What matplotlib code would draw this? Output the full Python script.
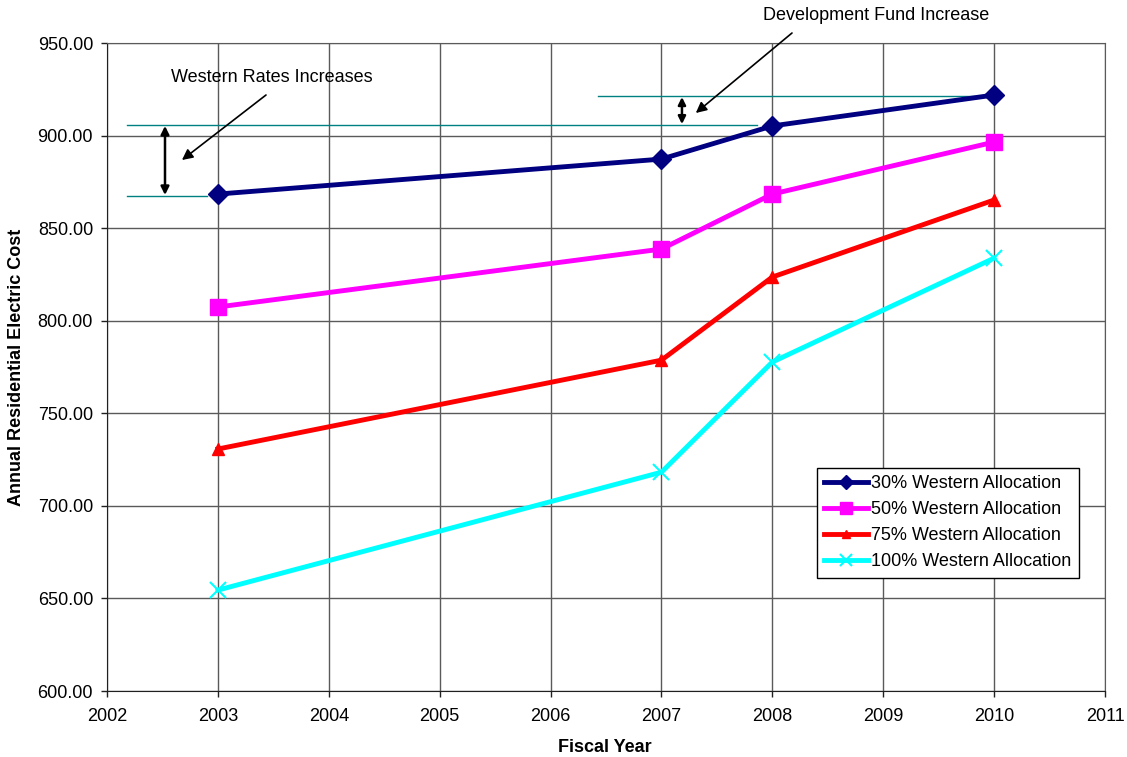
import matplotlib
matplotlib.use("Agg")
import matplotlib.pyplot as plt

plt.rcParams['font.family'] = ['Liberation Sans', 'DejaVu Sans']

years = [2003, 2007, 2008, 2010]
s30 = [868.4, 887.3, 905.2, 921.9]
s50 = [807.4, 838.7, 868.4, 896.5]
s75 = [730.7, 778.7, 823.6, 865.2]
s100 = [654.5, 718.2, 777.7, 833.8]
labels = ["30% Western Allocation", "50% Western Allocation",
          "75% Western Allocation", "100% Western Allocation"]
xticks = list(range(2002, 2012))
yticks = [600, 650, 700, 750, 800, 850, 900, 950]

W, H = 1127, 757
fig = plt.figure(figsize=(W / 100, H / 100), dpi=100)
ax = fig.add_axes([107 / W, 1 - 691 / H, 998 / W, 648 / H])
ax.set_xlim(2002, 2011)
ax.set_ylim(600, 950)
ax.set_xticks(xticks)
ax.set_yticks(yticks)
ax.set_yticklabels([f"{v:.2f}" for v in yticks])
ax.grid(True, color='#5a5a5a', linewidth=1.0)
ax.set_axisbelow(True)
for sp in ax.spines.values():
    sp.set_color('#5a5a5a')
ax.spines['left'].set_color('#202020')
ax.spines['bottom'].set_color('#202020')
ax.tick_params(axis='both', labelsize=13, length=4, color='#202020', width=1)
ax.tick_params(axis='x', pad=8)
ax.tick_params(axis='y', pad=6)
ax.set_xlabel("Fiscal Year", fontsize=13, fontweight='bold')
ax.set_ylabel("Annual Residential Electric Cost", fontsize=13, fontweight='bold')
ax.xaxis.set_label_coords(0.499, -0.074)
ax.yaxis.set_label_coords(-0.082, 0.5)

teal = '#008080'
# annotation guide lines
ax.plot([2002.18, 2002.90], [867.4, 867.4], color=teal, lw=1.0, zorder=3)
ax.plot([2002.18, 2007.86], [905.7, 905.7], color=teal, lw=1.0, zorder=3)
ax.plot([2006.43, 2009.92], [921.4, 921.4], color=teal, lw=1.0, zorder=3)

ax.plot(years, s30, color='#000080', lw=3.5, marker='D', ms=10, label=labels[0], zorder=5)
ax.plot(years, s50, color='#FF00FF', lw=3.5, marker='s', ms=12, label=labels[1], zorder=5)
ax.plot(years, s75, color='#FF0000', lw=3.5, marker='^', ms=8, label=labels[2], zorder=5)
ax.plot(years, s100, color='#00FFFF', lw=3.5, marker='x', ms=11, mew=1.5, label=labels[3], zorder=5)

# double arrows
ax.annotate('', xy=(2002.523, 867.9), xytext=(2002.523, 905.2),
            arrowprops=dict(arrowstyle='<|-|>', color='black', lw=1.8, mutation_scale=12,
                            shrinkA=0, shrinkB=0))
ax.annotate('', xy=(2007.185, 906.2), xytext=(2007.185, 920.8),
            arrowprops=dict(arrowstyle='<|-|>', color='black', lw=1.8, mutation_scale=11,
                            shrinkA=0, shrinkB=0))

# texts and pointing arrows
fig.text(272 / W, 1 - 77 / H, 'Western Rates Increases', fontsize=13, ha='center', va='center')
fig.text(876 / W, 1 - 16 / H, 'Development Fund Increase', fontsize=13, ha='center', va='center')
ax.annotate('', xy=(2002.676, 886.8), xytext=(266, H - 95), textcoords='figure pixels',
            arrowprops=dict(arrowstyle='-|>', color='black', lw=1.2, mutation_scale=16,
                            shrinkA=0, shrinkB=0), annotation_clip=False)
ax.annotate('', xy=(2007.31, 912.2), xytext=(792, H - 33), textcoords='figure pixels',
            arrowprops=dict(arrowstyle='-|>', color='black', lw=1.2, mutation_scale=16,
                            shrinkA=0, shrinkB=0), annotation_clip=False)

leg = ax.legend(loc='upper left', bbox_to_anchor=((817 - 107) / 998, 1 - (468 - 43) / 648),
                fontsize=13, frameon=True, fancybox=False, edgecolor='black', framealpha=1,
                handlelength=2.4, handletextpad=0.2, borderpad=0.4, labelspacing=0.5,
                borderaxespad=0, markerscale=0.75)
leg.get_frame().set_linewidth(1.0)

fig.savefig("out.png", dpi=100)
